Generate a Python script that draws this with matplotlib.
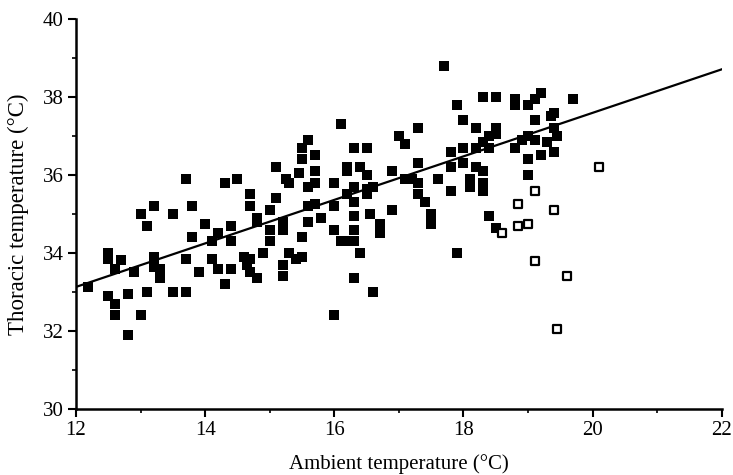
import numpy as np
import matplotlib
matplotlib.use("Agg")
import matplotlib.pyplot as plt
from matplotlib.ticker import MultipleLocator

# ── Data ──────────────────────────────────────────────────────────────────────
filled_x = [12.18, 12.5, 12.5, 12.7, 12.6, 12.5, 12.6, 12.6, 12.8, 12.8, 12.9,
            13.0, 13.0, 13.1, 13.1, 13.2, 13.2, 13.2, 13.3, 13.3, 13.5, 13.5,
            13.7, 13.7, 13.7, 13.8, 13.8, 13.9, 14.0, 14.1, 14.1, 14.2, 14.2,
            14.3, 14.3, 14.4, 14.4, 14.4, 14.5, 14.6, 14.65, 14.7, 14.7, 14.7,
            14.7, 14.8, 14.8, 14.8, 14.9, 15.0, 15.0, 15.0, 15.1, 15.1, 15.2,
            15.2, 15.2, 15.2, 15.25, 15.3, 15.3, 15.4, 15.45, 15.5, 15.5, 15.5,
            15.5, 15.6, 15.6, 15.6, 15.6, 15.7, 15.7, 15.7, 15.7, 15.8, 16.0,
            16.0, 16.0, 16.0, 16.1, 16.1, 16.2, 16.2, 16.2, 16.2, 16.3, 16.3,
            16.3, 16.3, 16.3, 16.3, 16.3, 16.4, 16.4, 16.5, 16.5, 16.5, 16.5,
            16.55, 16.6, 16.6, 16.7, 16.7, 16.9, 16.9, 17.0, 17.1, 17.1, 17.2,
            17.3, 17.3, 17.3, 17.3, 17.4, 17.5, 17.5, 17.6, 17.7, 17.8, 17.8,
            17.8, 17.9, 17.9, 18.0, 18.0, 18.0, 18.1, 18.1, 18.2, 18.2, 18.2,
            18.3, 18.3, 18.3, 18.3, 18.3, 18.4, 18.4, 18.4, 18.5, 18.5, 18.5,
            18.5, 18.8, 18.8, 18.8, 18.9, 19.0, 19.0, 19.0, 19.0, 19.1, 19.1,
            19.1, 19.2, 19.2, 19.3, 19.35, 19.4, 19.4, 19.4, 19.45, 19.7]
filled_y = [33.12, 34.0, 33.85, 33.82, 33.6, 32.9, 32.7, 32.4, 32.95, 31.9, 33.5,
            35.0, 32.4, 34.7, 33.0, 35.2, 33.9, 33.65, 33.6, 33.35, 35.0, 33.0,
            35.9, 33.85, 33.0, 35.2, 34.4, 33.5, 34.75, 34.3, 33.85, 34.5, 33.6,
            35.8, 33.2, 34.7, 34.3, 33.6, 35.9, 33.9, 33.7, 35.5, 35.2, 33.85,
            33.5, 34.9, 34.8, 33.35, 34.0, 35.1, 34.6, 34.3, 36.2, 35.4, 34.8,
            34.6, 33.7, 33.4, 35.9, 35.8, 34.0, 33.85, 36.05, 36.7, 36.4, 34.4,
            33.9, 36.9, 35.7, 35.2, 34.8, 36.5, 36.1, 35.8, 35.25, 34.9, 35.8,
            35.2, 34.6, 32.4, 37.3, 34.3, 36.1, 36.2, 35.5, 34.3, 36.7, 35.7,
            35.3, 34.95, 34.6, 34.3, 33.35, 34.0, 36.2, 36.7, 36.0, 35.65, 35.5,
            35.0, 35.7, 33.0, 34.75, 34.5, 36.1, 35.1, 37.0, 36.8, 35.9, 35.9,
            37.2, 36.3, 35.8, 35.5, 35.3, 35.0, 34.75, 35.9, 38.8, 36.6, 36.2,
            35.6, 37.8, 34.0, 37.4, 36.7, 36.3, 35.9, 35.7, 37.2, 36.7, 36.2,
            38.0, 36.85, 36.1, 35.8, 35.6, 37.0, 36.7, 34.95, 37.2, 37.05, 38.0,
            34.65, 37.95, 37.8, 36.7, 36.9, 37.8, 37.0, 36.4, 36.0, 37.95, 37.4,
            36.9, 38.1, 36.5, 36.85, 37.5, 37.6, 37.2, 36.6, 37.0, 37.95]

open_x = [18.6, 18.85, 18.85, 19.0, 19.1, 19.1, 19.4, 19.45, 19.6, 20.1]
open_y = [34.5, 35.25, 34.7, 34.75, 35.6, 33.8, 35.1, 32.05, 33.4, 36.2]

line_x = [12, 22]
line_y = [33.13, 38.71]

# ── Plot ──────────────────────────────────────────────────────────────────────
plt.rcParams["font.family"] = ["Liberation Serif", "DejaVu Serif"]

fig = plt.figure(figsize=(7.33, 4.75), dpi=100)
ax = fig.add_axes([0.1037, 0.139, 0.881, 0.821])

ax.plot(line_x, line_y, color="black", linewidth=1.6, zorder=2)
ax.scatter(filled_x, filled_y, marker="s", s=42, color="black",
           linewidths=0, zorder=3)
ax.scatter(open_x, open_y, marker="s", s=26, facecolor="white",
           edgecolor="black", linewidths=1.6, zorder=3)

ax.set_xlim(12, 22)
ax.set_ylim(30, 40)
ax.xaxis.set_major_locator(MultipleLocator(2))
ax.xaxis.set_minor_locator(MultipleLocator(1))
ax.yaxis.set_major_locator(MultipleLocator(2))
ax.yaxis.set_minor_locator(MultipleLocator(1))
ax.tick_params(which="major", direction="out", length=6, width=1.5,
               labelsize=15, pad=3)
ax.tick_params(which="minor", direction="out", length=3, width=1.2)

for side in ("top", "right"):
    ax.spines[side].set_visible(False)
for side in ("left", "bottom"):
    ax.spines[side].set_linewidth(1.8)

ax.set_xlabel("Ambient temperature (°C)", fontsize=15, labelpad=10)
ax.set_ylabel("Thoracic temperature (°C)", fontsize=16.5, labelpad=10)

fig.savefig("out.png", dpi=100)
